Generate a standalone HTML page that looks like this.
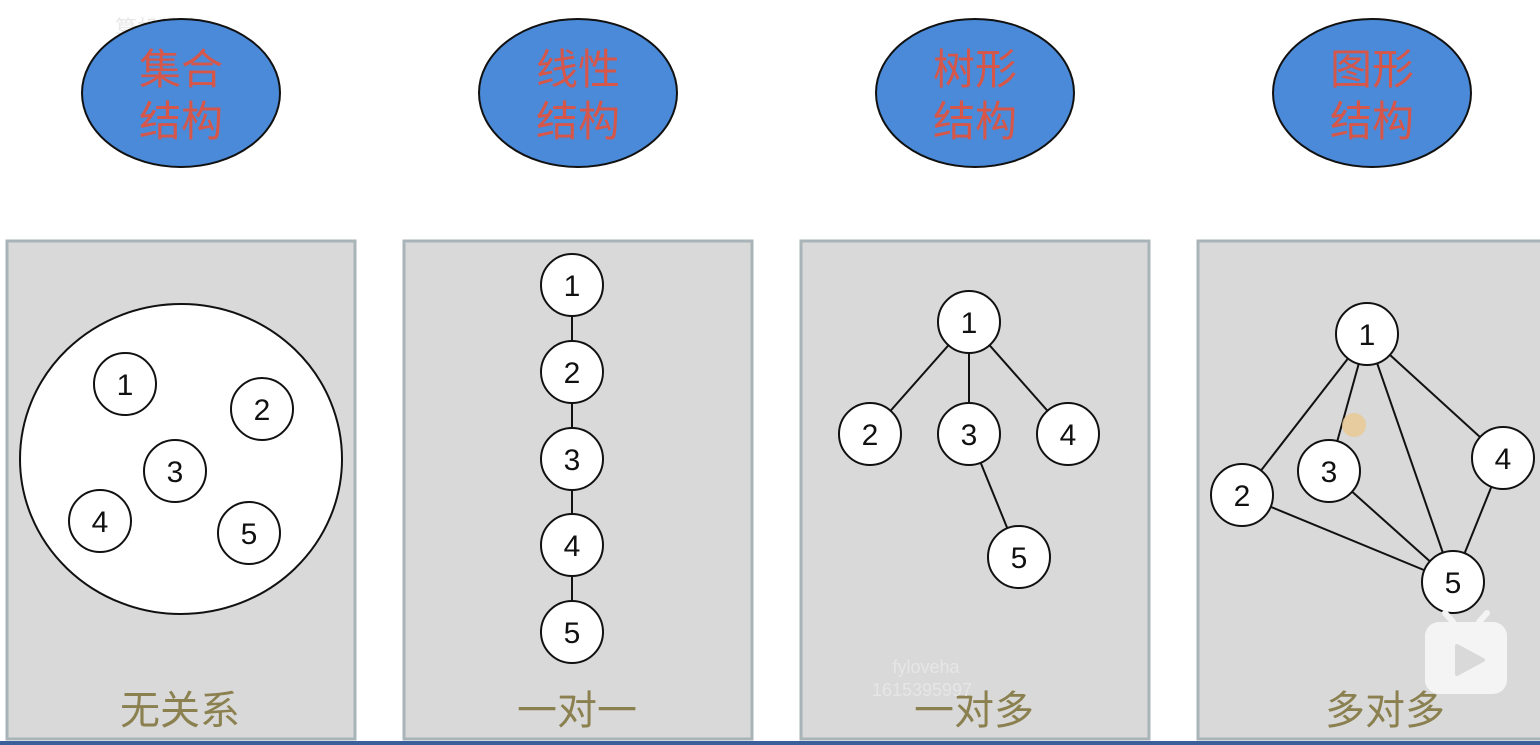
<!DOCTYPE html>
<html><head><meta charset="utf-8"><style>
html,body{margin:0;padding:0;background:#fff;width:1540px;height:745px;overflow:hidden}
text{font-family:"Liberation Sans","Noto Sans CJK SC",sans-serif}
</style></head><body>
<svg width="1540" height="745" viewBox="0 0 1540 745" xmlns="http://www.w3.org/2000/svg">
<rect width="1540" height="745" fill="#fff"/>
<text x="115" y="36" font-size="22" fill="#e8e8e8">算机教育</text>
<g stroke="#111" stroke-width="2" fill="#4a8ad8">
<ellipse cx="181" cy="93" rx="99" ry="74"/>
<ellipse cx="578" cy="93" rx="99" ry="74"/>
<ellipse cx="975" cy="93" rx="99" ry="74"/>
<ellipse cx="1372" cy="93" rx="99" ry="74"/>
</g>
<g font-size="42" fill="#d6574a" text-anchor="middle">
<text x="181" y="84">集合</text><text x="181" y="136">结构</text>
<text x="578" y="84">线性</text><text x="578" y="136">结构</text>
<text x="975" y="84">树形</text><text x="975" y="136">结构</text>
<text x="1372" y="84">图形</text><text x="1372" y="136">结构</text>
</g>
<g fill="#d9d9d9" stroke="#a9b4b8" stroke-width="3">
<rect x="7" y="241" width="348" height="498"/>
<rect x="404" y="241" width="348" height="498"/>
<rect x="801" y="241" width="348" height="498"/>
<rect x="1198" y="241" width="348" height="498"/>
</g>
<ellipse cx="181" cy="459" rx="161" ry="155" fill="#fff" stroke="#111" stroke-width="2"/>
<g stroke="#111" stroke-width="2">
<line x1="572" y1="285" x2="572" y2="632"/>
<line x1="969" y1="322" x2="870" y2="434"/>
<line x1="969" y1="322" x2="969" y2="434"/>
<line x1="969" y1="322" x2="1068" y2="434"/>
<line x1="969" y1="434" x2="1019" y2="557"/>
<line x1="1367" y1="334" x2="1242" y2="495"/>
<line x1="1367" y1="334" x2="1329" y2="471"/>
<line x1="1367" y1="334" x2="1453" y2="582"/>
<line x1="1367" y1="334" x2="1503" y2="458"/>
<line x1="1329" y1="471" x2="1453" y2="582"/>
<line x1="1242" y1="495" x2="1453" y2="582"/>
<line x1="1503" y1="458" x2="1453" y2="582"/>
</g>
<g fill="#fff" stroke="#111" stroke-width="2">
<circle cx="125" cy="384" r="31"/><circle cx="262" cy="409" r="31"/><circle cx="175" cy="471" r="31"/><circle cx="100" cy="521" r="31"/><circle cx="249" cy="533" r="31"/>
<circle cx="572" cy="285" r="31"/><circle cx="572" cy="372" r="31"/><circle cx="572" cy="459" r="31"/><circle cx="572" cy="545" r="31"/><circle cx="572" cy="632" r="31"/>
<circle cx="969" cy="322" r="31"/><circle cx="870" cy="434" r="31"/><circle cx="969" cy="434" r="31"/><circle cx="1068" cy="434" r="31"/><circle cx="1019" cy="557" r="31"/>
<circle cx="1367" cy="334" r="31"/><circle cx="1242" cy="495" r="31"/><circle cx="1329" cy="471" r="31"/><circle cx="1503" cy="458" r="31"/><circle cx="1453" cy="582" r="31"/>
</g>
<g font-size="30" fill="#111" text-anchor="middle">
<text x="125" y="395">1</text><text x="262" y="420">2</text><text x="175" y="482">3</text><text x="100" y="532">4</text><text x="249" y="544">5</text>
<text x="572" y="296">1</text><text x="572" y="383">2</text><text x="572" y="470">3</text><text x="572" y="556">4</text><text x="572" y="643">5</text>
<text x="969" y="333">1</text><text x="870" y="445">2</text><text x="969" y="445">3</text><text x="1068" y="445">4</text><text x="1019" y="568">5</text>
<text x="1367" y="345">1</text><text x="1242" y="506">2</text><text x="1329" y="482">3</text><text x="1503" y="469">4</text><text x="1453" y="593">5</text>
</g>
<circle cx="1354" cy="425" r="12" fill="#e8c890" opacity="0.8"/>
<g font-size="40" fill="#8b8050" text-anchor="middle">
<text x="180" y="724">无关系</text>
<text x="577" y="724">一对一</text>
<text x="974" y="724">一对多</text>
<text x="1385" y="724">多对多</text>
</g>
<g font-size="18" fill="#e6e6e6" text-anchor="middle"><text x="926" y="673">fyloveha</text><text x="922" y="696">1615395997</text></g>
<g fill="#f4f4f4">
<rect x="1425" y="622" width="82" height="72" rx="14"/>
<line x1="1453" y1="622" x2="1445" y2="613" stroke="#f4f4f4" stroke-width="6" stroke-linecap="round"/>
<line x1="1479" y1="622" x2="1487" y2="613" stroke="#f4f4f4" stroke-width="6" stroke-linecap="round"/>
</g>
<path d="M1457 646 L1483 660 L1457 674 Z" fill="#d9d9d9" stroke="#d9d9d9" stroke-width="4" stroke-linejoin="round"/>
<rect x="0" y="741" width="1540" height="4" fill="#3a5f9a"/>
</svg>
</body></html>
